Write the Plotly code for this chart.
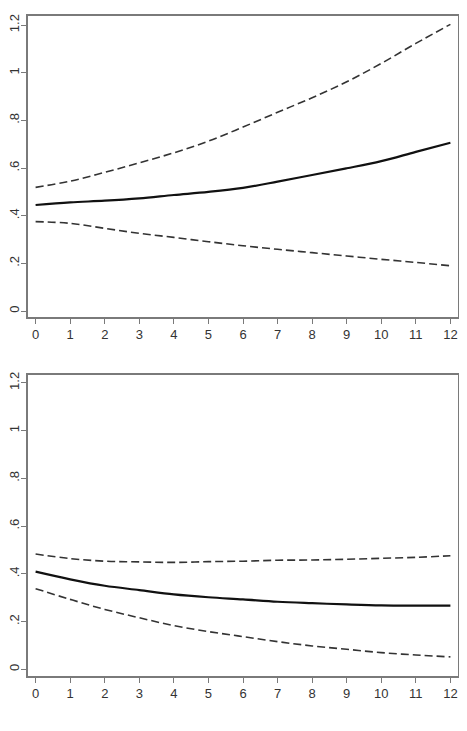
import plotly.graph_objects as go

horizon = list(range(13))

# top panel
top_mean = [0.445, 0.456, 0.463, 0.473, 0.487, 0.500, 0.517, 0.543, 0.571, 0.599, 0.629, 0.668, 0.706]
top_upper = [0.519, 0.545, 0.582, 0.622, 0.664, 0.713, 0.772, 0.834, 0.895, 0.962, 1.039, 1.123, 1.203]
top_lower = [0.375, 0.368, 0.347, 0.326, 0.309, 0.291, 0.274, 0.259, 0.245, 0.231, 0.217, 0.204, 0.190]

# bottom panel
bot_mean = [0.409, 0.377, 0.350, 0.332, 0.314, 0.302, 0.293, 0.283, 0.277, 0.272, 0.268, 0.267, 0.267]
bot_upper = [0.483, 0.464, 0.453, 0.450, 0.448, 0.451, 0.453, 0.457, 0.458, 0.461, 0.465, 0.469, 0.476]
bot_lower = [0.338, 0.293, 0.251, 0.216, 0.183, 0.158, 0.137, 0.116, 0.098, 0.084, 0.070, 0.060, 0.052]

y_ticks = [0, 0.2, 0.4, 0.6, 0.8, 1.0, 1.2]
y_labels = ["0", ".2", ".4", ".6", ".8", "1", "1.2"]

# the page body has an 8px margin, so the figure is drawn 8px in from the corner
PAGE_OFF = 8
W, H = 467 - PAGE_OFF, 731 - PAGE_OFF
BOX_L, BOX_R = 28 - PAGE_OFF, 458 - PAGE_OFF
TOP_BOX = (16 - PAGE_OFF, 317 - PAGE_OFF)
BOT_BOX = (375 - PAGE_OFF, 676 - PAGE_OFF)
MT, MB = TOP_BOX[0], H - BOT_BOX[1]

fig = go.Figure()

panels = [
    ("x", "y", top_mean, top_upper, top_lower),
    ("x2", "y2", bot_mean, bot_upper, bot_lower),
]
for xa, ya, mean, upper, lower in panels:
    for band in (upper, lower):
        fig.add_trace(go.Scatter(
            x=horizon, y=band, xaxis=xa, yaxis=ya, mode="lines",
            line=dict(color="#333333", width=1.6, dash="8px,4px", shape="spline"),
            showlegend=False, hoverinfo="skip",
        ))
    fig.add_trace(go.Scatter(
        x=horizon, y=mean, xaxis=xa, yaxis=ya, mode="lines",
        line=dict(color="#111111", width=2.2, shape="spline"),
        showlegend=False,
    ))

axis_style = dict(
    showline=True, mirror=True, linecolor="#7a7a7a", linewidth=1.5,
    ticks="outside", ticklen=5, tickcolor="#7a7a7a", tickwidth=1,
    showgrid=False, zeroline=False, automargin=False,
    tickfont=dict(family="Liberation Sans, Arial", size=13, color="#333333"),
)
y_style = dict(axis_style, tickangle=-90, ticklabelstandoff=-3)

inner_h = H - MT - MB
def ydom(top_px, bot_px):
    return [(H - MB - bot_px) / inner_h, (H - MB - top_px) / inner_h]

fig.update_layout(
    width=W, height=H,
    margin=dict(l=BOX_L, r=W - BOX_R, t=MT, b=MB),
    paper_bgcolor="white", plot_bgcolor="white",
    xaxis=dict(domain=[0, 1], anchor="y", range=[-0.22, 12.22],
               tickvals=horizon, **axis_style),
    yaxis=dict(domain=ydom(*TOP_BOX), anchor="x",
               range=[-0.025, 1.238], tickvals=y_ticks, ticktext=y_labels,
               **y_style),
    xaxis2=dict(domain=[0, 1], anchor="y2", range=[-0.22, 12.22],
                tickvals=horizon, **axis_style),
    yaxis2=dict(domain=ydom(*BOT_BOX), anchor="x2",
                range=[-0.028, 1.233], tickvals=y_ticks, ticktext=y_labels,
                **y_style),
)

fig.write_html("out.html")
